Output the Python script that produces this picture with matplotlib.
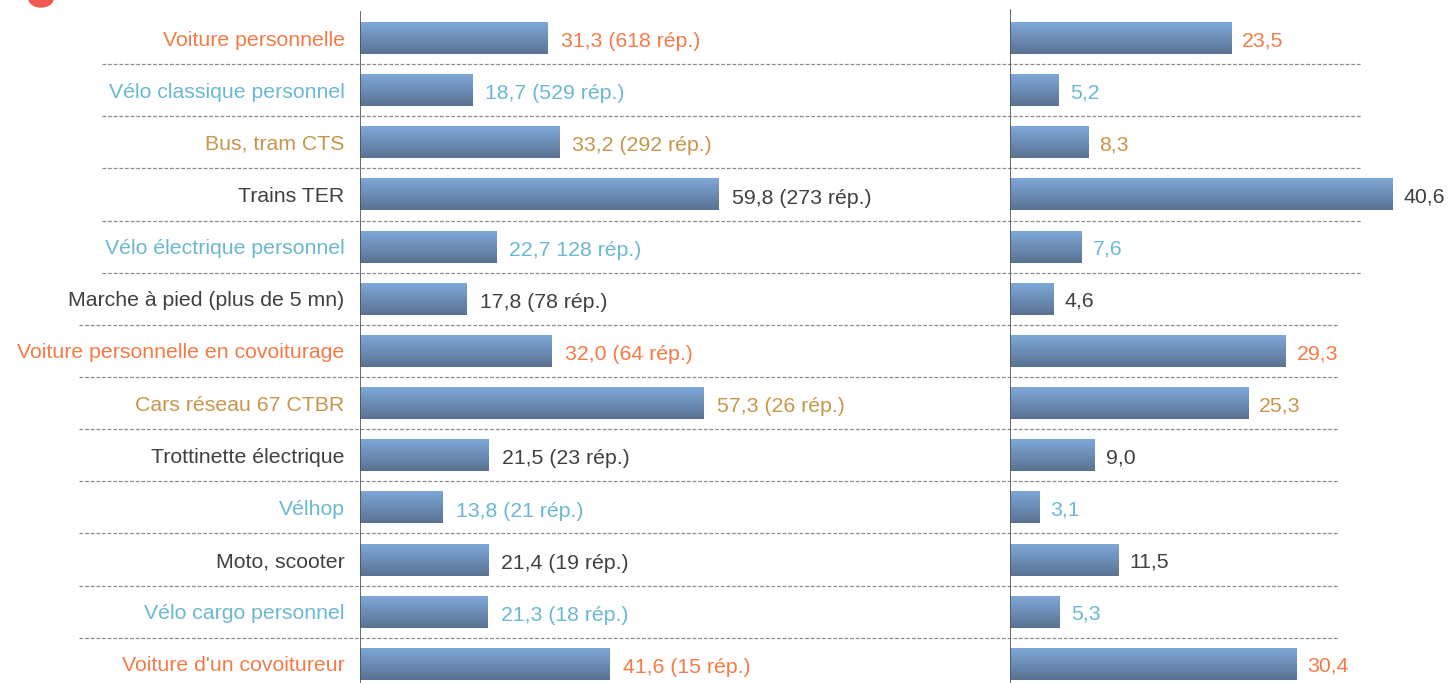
import numpy as np
import matplotlib
matplotlib.use('Agg')
import matplotlib.pyplot as plt
from matplotlib.patches import Ellipse

plt.rcParams['font.family'] = ['Liberation Sans', 'DejaVu Sans']

categories = [
    'Voiture personnelle', 'Vélo classique personnel', 'Bus, tram CTS',
    'Trains TER', 'Vélo électrique personnel', 'Marche à pied (plus de 5 mn)',
    'Voiture personnelle en covoiturage', 'Cars réseau 67 CTBR',
    'Trottinette électrique', 'Vélhop', 'Moto, scooter',
    'Vélo cargo personnel', "Voiture d'un covoitureur",
]
left_values = [31.3, 18.7, 33.2, 59.8, 22.7, 17.8, 32.0, 57.3, 21.5, 13.8, 21.4, 21.3, 41.6]
left_labels = [
    '31,3 (618 rép.)', '18,7 (529 rép.)', '33,2 (292 rép.)', '59,8 (273 rép.)',
    '22,7 128 rép.)', '17,8 (78 rép.)', '32,0 (64 rép.)', '57,3 (26 rép.)',
    '21,5 (23 rép.)', '13,8 (21 rép.)', '21,4 (19 rép.)', '21,3 (18 rép.)',
    '41,6 (15 rép.)',
]
right_values = [23.5, 5.2, 8.3, 40.6, 7.6, 4.6, 29.3, 25.3, 9.0, 3.1, 11.5, 5.3, 30.4]
groups = ['car', 'bike', 'bus', 'other', 'bike', 'other', 'car', 'bus',
          'other', 'bike', 'other', 'bike', 'car']

group_colors = {'car': '#F57A46', 'bike': '#6BB8D2', 'bus': '#C8964B', 'other': '#404040'}
text_colors = [group_colors[g] for g in groups]

W, H = 1448, 683
ROW = 52.15       # px between rows
TOP = 38          # px, centre of first row
FS = 15.3

fig = plt.figure(figsize=(W / 100, H / 100), dpi=100)

# left panel: zero at x=360, 6 px per unit
ax1 = fig.add_axes([360 / W, 0, 640 / W, 1])
ax1.set_xlim(0, 640 / 6.0)
# right panel: zero at x=1010, 9.41 px per unit
ax2 = fig.add_axes([1010 / W, 0, 438 / W, 1])
ax2.set_xlim(0, 438 / 9.41)

ylim = (H - TOP) / ROW, -TOP / ROW
ypos = np.arange(len(categories))


def gradient_bars(ax, values):
    bars = ax.barh(ypos, values, height=32 / ROW, color='none', edgecolor='none')
    grad = np.linspace(0, 1, 64).reshape(-1, 1)
    cmap = matplotlib.colors.LinearSegmentedColormap.from_list('g', ['#7EA8D9', '#5A7292'])
    for b in bars:
        x0, y0 = b.get_x(), b.get_y()
        im = ax.imshow(grad, cmap=cmap, aspect='auto', interpolation='bilinear',
                       extent=(x0, x0 + b.get_width(), y0 + b.get_height(), y0), zorder=2)
        im.set_clip_path(b)
    return bars


for ax in (ax1, ax2):
    for s in ax.spines.values():
        s.set_visible(False)
    ax.set_xticks([])
    ax.patch.set_alpha(0)

gradient_bars(ax1, left_values)
gradient_bars(ax2, right_values)
ax1.set_ylim(*ylim)
ax2.set_ylim(*ylim)
ax1.set_xlim(0, 640 / 6.0)
ax2.set_xlim(0, 438 / 9.41)

ax1.axvline(0, ymin=0, ymax=1 - 12 / H, color='#505050', lw=1.2, zorder=3)
ax2.axvline(0, ymin=0, ymax=1 - 10 / H, color='#505050', lw=1.2, zorder=3)

ax1.set_yticks(ypos)
ax1.set_yticklabels(categories, fontsize=FS)
ax1.tick_params(axis='y', length=0, pad=11)
for lab, c in zip(ax1.get_yticklabels(), text_colors):
    lab.set_color(c)
ax2.set_yticks([])

for i, (v, t, c) in enumerate(zip(left_values, left_labels, text_colors)):
    ax1.text(v + 13 / 6.0, i + 0.07, t, color=c, fontsize=FS, va='center', ha='left')
for i, (v, c) in enumerate(zip(right_values, text_colors)):
    ax2.text(v + 11 / 9.41, i + 0.05, f'{v:.1f}'.replace('.', ','), color=c,
             fontsize=FS, va='center', ha='left', clip_on=False)

# dashed separators spanning both panels (in left-panel data units)
for k in range(len(categories) - 1):
    y = k + 0.5
    if k < 5:
        xs = ((102 - 360) / 6.0, (1361 - 360) / 6.0)
    else:
        xs = ((79 - 360) / 6.0, (1337 - 360) / 6.0)
    ax1.plot(xs, [y, y], ls=(0, (3, 1.5)), color='#8C8C8C', lw=0.9,
             clip_on=False, zorder=1)

# cropped red mark at the top-left corner
fig.patches.append(Ellipse((41 / W, (H + 1) / H), 24 / W, 16 / H,
                           transform=fig.transFigure, color='#EE5A50'))

fig.savefig('out.png', dpi=100)
